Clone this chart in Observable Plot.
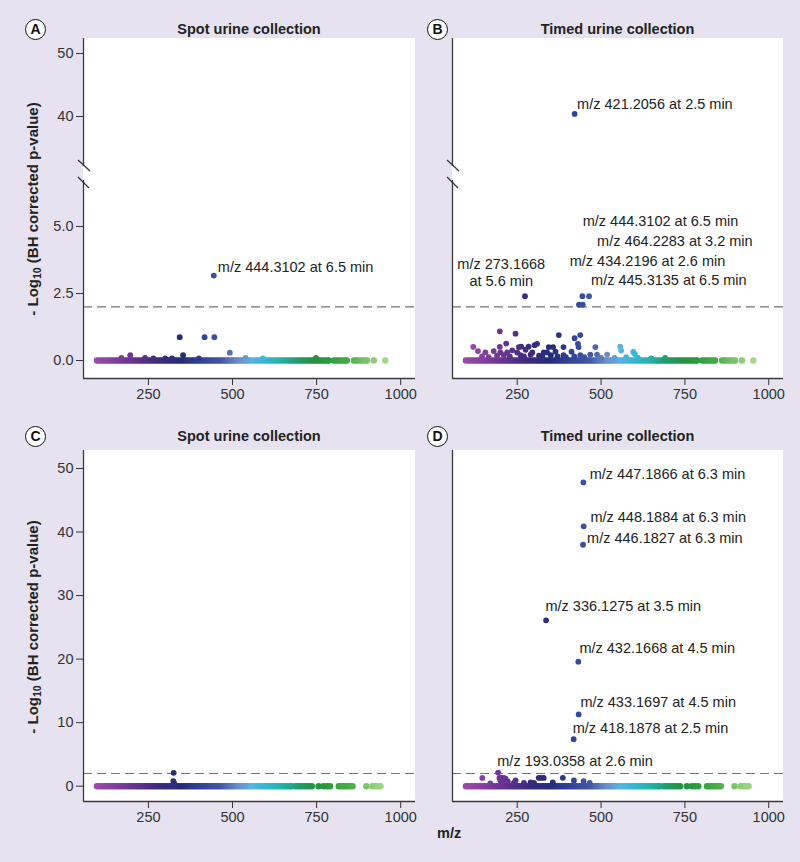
<!DOCTYPE html>
<html><head><meta charset="utf-8">
<script src="https://cdn.jsdelivr.net/npm/d3@7"></script>
<script src="https://cdn.jsdelivr.net/npm/@observablehq/plot@0.6"></script>
<style>
html,body{margin:0;padding:0;background:#e6e2f0;}
#fig{position:relative;width:800px;height:862px;background:#e6e2f0;font-family:"Liberation Sans",Arial,Helvetica,sans-serif;overflow:hidden;}
#fig svg{position:absolute;overflow:visible;}
.panelbg{position:absolute;background:#fff;}
.title{position:absolute;font-weight:bold;font-size:14.5px;color:#222;text-align:center;line-height:16px;height:16px;}
.letter{position:absolute;box-sizing:border-box;width:21px;height:21px;border:1.4px solid #111;border-radius:50%;background:#fff;font-weight:bold;font-size:14px;text-align:center;line-height:19px;color:#111;}
.ylab{position:absolute;font-weight:bold;font-size:15px;color:#222;white-space:nowrap;transform:translate(-50%,-50%) rotate(-90deg);}
.ylab sub{font-size:10.5px;vertical-align:-3px;}
.xlab{position:absolute;font-weight:bold;font-size:14.5px;color:#222;line-height:16px;}
</style></head>
<body><div id="fig"></div>
<script>
// ---------- DATA ----------
const panelTitles = ["Spot urine collection", "Timed urine collection", "Spot urine collection", "Timed urine collection"];
const panelLetters = ["A", "B", "C", "D"];
const yAxisTitle = "- Log<sub>10</sub> (BH corrected p-value)";
const xAxisTitle = "m/z";
const xTicks = [250, 500, 750, 1000];
const yTicksBreakLow = [0, 2.5, 5];
const yTicksBreakHigh = [40, 50];
const yTicksFull = [0, 10, 20, 30, 40, 50];
const significanceThreshold = 2;

// m/z of features with -log10 p = 0 (top analyses A, B)
const topBaselineMz = [97,104,111,118,125,132,139,146,153,160,167,174,181,188,195,202,209,216,223,230,237,244,251,258,265,272,279,286,293,300,307,314,321,328,335,342,349,356,363,370,377,384,391,398,405,412,419,426,433,440,447,454,461,468,475,482,489,496,503,510,517,524,531,538,545,552,559,566,573,580,587,594,601,608,615,622,629,636,643,650,657,664,671,678,685,692,699,706,713,720,727,734,741,748,755,762,769,776,783,786,801,808,815,822,829,836,840,861,867,874,881,888,895,900,920,954];
// m/z of features with -log10 p = 0 (bottom analyses C, D)
const bottomBaselineMz = [97,104,111,118,125,132,139,146,153,160,167,174,181,188,195,202,209,216,223,230,237,244,251,258,265,272,279,286,293,300,307,314,321,328,335,342,349,356,363,370,377,384,391,398,405,412,419,426,433,440,447,454,461,468,475,482,489,496,503,510,517,524,531,538,545,552,559,566,573,580,587,594,601,608,615,622,629,636,643,650,657,664,671,676,687,694,701,708,715,722,729,736,756,771,781,790,816,823,830,837,844,851,857,898,916,924,932,940];

// Panel A features above baseline
const aMz  = [343, 417, 446, 444.3102, 492, 196, 353, 748, 539, 400, 170, 240, 300, 320, 590, 265];
const aVal = [0.87, 0.87, 0.87, 3.17, 0.29, 0.2, 0.2, 0.1, 0.1, 0.08, 0.1, 0.1, 0.08, 0.08, 0.08, 0.08];

// Panel B features above baseline
const bMz  = [421.2056, 273.1668, 444.3102, 464.2283, 434.2196, 445.3135,
  198, 245, 374, 438, 421, 217, 119, 198, 255, 262, 284, 302, 309, 344, 357, 388, 431, 433, 483, 557, 560, 596, 601,
  133, 155, 180, 200, 220, 235, 250, 275, 295, 329, 339, 364, 388, 412, 438, 468, 488, 518, 691,
  145, 165, 190, 210, 228, 260, 270, 290, 315, 325, 350, 370, 395, 420, 450, 500, 540, 575, 610, 650];
const bVal = [40.4, 2.40, 2.40, 2.40, 2.08, 2.08,
  1.09, 1.0, 0.95, 0.95, 0.83, 0.63, 0.51, 0.51, 0.5, 0.52, 0.52, 0.57, 0.62, 0.5, 0.5, 0.5, 0.62, 0.5, 0.5, 0.52, 0.37, 0.32, 0.24,
  0.35, 0.3, 0.35, 0.3, 0.3, 0.38, 0.3, 0.4, 0.3, 0.3, 0.3, 0.33, 0.2, 0.33, 0.2, 0.22, 0.22, 0.22, 0.1,
  0.15, 0.12, 0.18, 0.2, 0.15, 0.2, 0.15, 0.22, 0.18, 0.15, 0.2, 0.15, 0.12, 0.15, 0.12, 0.1, 0.1, 0.12, 0.1, 0.08];

// Panel C features above baseline
const cMz  = [325, 324, 327];
const cVal = [2.1, 0.8, 0.45];

// Panel D features above baseline
const dMz  = [447.1866, 448.1884, 446.1827, 336.1275, 432.1668, 433.1697, 418.1878, 193.0358,
  146, 197, 203, 210, 215, 314, 320, 329, 386, 245, 419, 448, 200, 206, 222, 270, 356, 466, 300, 170, 240, 290];
const dVal = [47.8, 40.9, 38.0, 26.1, 19.6, 11.3, 7.4, 2.15,
  1.3, 1.3, 1.32, 1.3, 1.2, 1.32, 1.32, 1.3, 1.32, 0.9, 0.9, 0.8, 0.85, 0.7, 0.75, 0.5, 0.6, 0.5, 0.5, 0.45, 0.5, 0.6];

// Annotations (text, anchor m/z, anchor value, alignment)
const aLabelText = ["m/z 444.3102 at 6.5 min"];
const aLabelMz = [456.3];
const aLabelVal = [3.46];
const aLabelAlign = ["start"];

const bLabelText = ["m/z 421.2056 at 2.5 min", "m/z 444.3102 at 6.5 min", "m/z 464.2283 at 3.2 min", "m/z 434.2196 at 2.6 min", "m/z 445.3135 at 6.5 min", "m/z 273.1668\nat 5.6 min"];
const bLabelMz = [428.6, 445.2, 488.1, 406.5, 470.2, 202.4];
const bLabelVal = [42.0, 5.20, 4.45, 3.71, 2.99, 3.31];
const bLabelAlign = ["start", "start", "start", "start", "start", "middle"];

const dLabelText = ["m/z 447.1866 at 6.3 min", "m/z 448.1884 at 6.3 min", "m/z 446.1827 at 6.3 min", "m/z 336.1275 at 3.5 min", "m/z 432.1668 at 4.5 min", "m/z 433.1697 at 4.5 min", "m/z 418.1878 at 2.5 min", "m/z 193.0358 at 2.6 min"];
const dLabelMz = [466.1, 468.2, 458.3, 334.2, 435.4, 438.4, 415.5, 190.5];
const dLabelVal = [49.06, 42.24, 38.94, 28.28, 21.62, 13.13, 9.03, 3.93];
const dLabelAlign = ["start", "start", "start", "start", "start", "start", "start", "start"];

// colour gradient along m/z
const colorStops = [100, 200, 280, 350, 420, 470, 520, 560, 600, 650, 700, 750, 800, 850, 900, 950];
const colorRange = ["#9a4aa8", "#6e3594", "#3e2b80", "#262c7a", "#33459a", "#4258a6", "#6a8cc8", "#5ab2e0", "#36b8d6", "#22b3ac", "#1f9d68", "#24923f", "#2f9e3e", "#47ae4a", "#7cc46a", "#a4d68c"];

// ---------- LAYOUT ----------
const fig = document.getElementById("fig");
const X_DOMAIN = [57, 1044];
const zip = (m, v) => m.map((mz, i) => ({mz, v: v[i]}));
const zipLab = (t, m, v, a) => t.map((text, i) => ({text, mz: m[i], v: v[i], align: a[i]}));

function addDiv(cls, css, html) {
  const d = document.createElement("div");
  d.className = cls;
  Object.assign(d.style, css);
  d.innerHTML = html;
  fig.appendChild(d);
  return d;
}

function makePanel(cfg) {
  const [y0, y1] = cfg.yDomain;
  const inDom = d => d.v >= y0 && d.v <= y1;
  const base = cfg.baseline.map(mz => ({mz, v: 0})).filter(inDom);
  const pts = cfg.pts.filter(inDom);
  const labs = cfg.labels.filter(inDom);
  const marks = [];
  if (significanceThreshold >= y0 && significanceThreshold <= y1)
    marks.push(Plot.ruleY([significanceThreshold], {stroke: "#737373", strokeWidth: 1.2, strokeDasharray: "9,5"}));
  marks.push(Plot.dot(base, {x: "mz", y: "v", r: 3.2, fill: d => d.mz}));
  marks.push(Plot.dot(pts, {x: "mz", y: "v", r: 2.9, fill: d => d.mz}));
  marks.push(Plot.text(labs.filter(d => d.align === "start"), {x: "mz", y: "v", text: "text", textAnchor: "start", fontSize: 14.5, fill: "#222"}));
  marks.push(Plot.text(labs.filter(d => d.align === "middle"), {x: "mz", y: "v", text: "text", textAnchor: "middle", lineHeight: 1.2, fontSize: 14.5, fill: "#222"}));
  marks.push(Plot.ruleX([X_DOMAIN[0]], {stroke: "#3a3a3a", strokeWidth: 1.3}));
  if (cfg.xAxis) marks.push(Plot.ruleY([y0], {stroke: "#3a3a3a", strokeWidth: 1.3}));
  const mB = cfg.xAxis ? 30 : 0;
  const svg = Plot.plot({
    width: cfg.width,
    height: cfg.plotH + mB,
    marginLeft: cfg.mL,
    marginRight: cfg.mR,
    marginTop: 0,
    marginBottom: mB,
    style: {background: "transparent", overflow: "visible", fontSize: "14.5px", fontFamily: "'Liberation Sans', Arial, sans-serif", color: "#333"},
    x: {domain: X_DOMAIN, axis: cfg.xAxis ? "bottom" : null, ticks: xTicks, tickFormat: d3.format("d"), tickSize: 7, tickPadding: 3, label: null},
    y: {domain: cfg.yDomain, axis: cfg.yAxis ? "left" : null, ticks: cfg.yTicks, tickFormat: cfg.yFmt, tickSize: 7, tickPadding: 3, label: null},
    color: {type: "linear", domain: colorStops, range: colorRange, clamp: true, interpolate: "rgb"},
    marks
  });
  svg.style.left = cfg.left + "px";
  svg.style.top = cfg.top + "px";
  if (cfg.breakMark) {
    const xs = svg.scale("x").apply(X_DOMAIN[0]);
    const g = d3.select(svg).append("g").attr("stroke", "#333").attr("stroke-width", 1.2);
    if (cfg.breakMark === "bottom") {
      const ys = svg.scale("y").apply(y0);
      g.append("line").attr("x1", xs - 5).attr("y1", ys - 6).attr("x2", xs + 7).attr("y2", ys + 5);
    } else {
      const ys = svg.scale("y").apply(y1);
      g.append("line").attr("x1", xs - 5).attr("y1", ys - 3).attr("x2", xs + 6).attr("y2", ys + 8);
    }
  }
  fig.appendChild(svg);
}

// white plot backgrounds
addDiv("panelbg", {left: "83px", top: "38px", width: "332px", height: "340px"}, "");
addDiv("panelbg", {left: "452px", top: "38px", width: "331px", height: "340px"}, "");
addDiv("panelbg", {left: "83px", top: "450px", width: "332px", height: "351px"}, "");
addDiv("panelbg", {left: "452px", top: "450px", width: "331px", height: "351px"}, "");

const fmt1 = d3.format(".1f"), fmt0 = d3.format("d");
const aPts = zip(aMz, aVal), bPts = zip(bMz, bVal), cPts = zip(cMz, cVal), dPts = zip(dMz, dVal);
const aLabs = zipLab(aLabelText, aLabelMz, aLabelVal, aLabelAlign);
const bLabs = zipLab(bLabelText, bLabelMz, bLabelVal, bLabelAlign);
const dLabs = zipLab(dLabelText, dLabelMz, dLabelVal, dLabelAlign);

const leftCol = {left: 0, width: 430, mL: 83, mR: 15, yAxis: true};
const rightCol = {left: 400, width: 400, mL: 52, mR: 17, yAxis: false};
const upper = {top: 38, plotH: 128, yDomain: [32.06, 52.38], yTicks: yTicksBreakHigh, yFmt: fmt0, xAxis: false, breakMark: "bottom"};
const lower = {top: 180, plotH: 198, yDomain: [-0.672, 6.716], yTicks: yTicksBreakLow, yFmt: fmt1, xAxis: true, breakMark: "top"};
const full = {top: 450, plotH: 351, yDomain: [-2.41, 52.83], yTicks: yTicksFull, yFmt: fmt0, xAxis: true, breakMark: null};

makePanel({...leftCol, ...upper, baseline: topBaselineMz, pts: aPts, labels: aLabs});
makePanel({...leftCol, ...lower, baseline: topBaselineMz, pts: aPts, labels: aLabs});
makePanel({...rightCol, ...upper, baseline: topBaselineMz, pts: bPts, labels: bLabs});
makePanel({...rightCol, ...lower, baseline: topBaselineMz, pts: bPts, labels: bLabs});
makePanel({...leftCol, ...full, baseline: bottomBaselineMz, pts: cPts, labels: []});
makePanel({...rightCol, ...full, baseline: bottomBaselineMz, pts: dPts, labels: dLabs});

// titles
addDiv("title", {left: "83px", width: "332px", top: "21px"}, panelTitles[0]);
addDiv("title", {left: "452px", width: "331px", top: "21px"}, panelTitles[1]);
addDiv("title", {left: "83px", width: "332px", top: "428px"}, panelTitles[2]);
addDiv("title", {left: "452px", width: "331px", top: "428px"}, panelTitles[3]);
// circled letters
addDiv("letter", {left: "25px", top: "19px"}, panelLetters[0]);
addDiv("letter", {left: "427px", top: "19px"}, panelLetters[1]);
addDiv("letter", {left: "25px", top: "426px"}, panelLetters[2]);
addDiv("letter", {left: "427px", top: "426px"}, panelLetters[3]);
// axis titles
addDiv("ylab", {left: "33px", top: "209px"}, yAxisTitle);
addDiv("ylab", {left: "33px", top: "627px"}, yAxisTitle);
addDiv("xlab", {left: "437px", top: "825px"}, xAxisTitle);
</script>
</body></html>
